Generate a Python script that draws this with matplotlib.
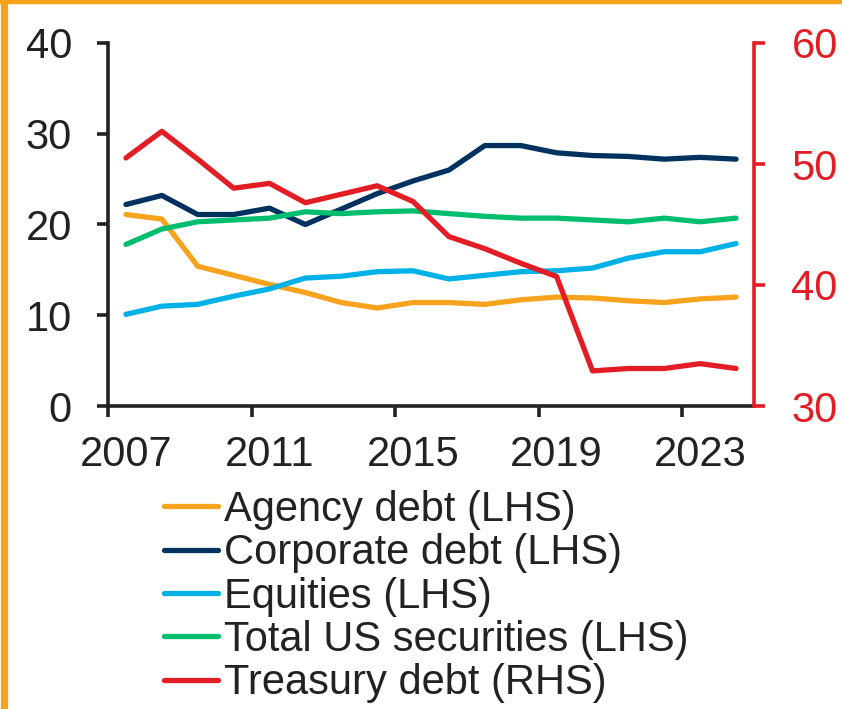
import matplotlib
matplotlib.use("Agg")
import matplotlib.pyplot as plt
from matplotlib.lines import Line2D
import numpy as np

plt.rcParams['font.family'] = ['Liberation Sans', 'DejaVu Sans']

years = np.arange(2007, 2025)
agency = [21.1, 20.6, 15.4, 14.4, 13.4, 12.5, 11.4, 10.8, 11.4,
          11.4, 11.2, 11.7, 12.0, 11.9, 11.6, 11.4, 11.8, 12.0]
corporate = [22.2, 23.2, 21.1, 21.1, 21.8, 20.0, 21.7, 23.4, 24.8,
             26.0, 28.7, 28.7, 27.9, 27.6, 27.5, 27.2, 27.4, 27.2]
equities = [10.1, 11.0, 11.2, 12.1, 12.9, 14.1, 14.3, 14.8, 14.9,
            14.0, 14.4, 14.8, 14.9, 15.2, 16.3, 17.0, 17.0, 17.9]
total_us = [17.8, 19.5, 20.3, 20.5, 20.7, 21.4, 21.2, 21.4, 21.5,
            21.2, 20.9, 20.7, 20.7, 20.5, 20.3, 20.7, 20.3, 20.7]
treasury = [50.5, 52.7, 50.4, 48.0, 48.4, 46.8, 47.5, 48.2, 46.9,
            44.0, 43.0, 41.8, 40.7, 32.9, 33.1, 33.1, 33.5, 33.1]
label_years = [2007, 2011, 2015, 2019, 2023]

labels = ["Agency debt (LHS)", "Corporate debt (LHS)", "Equities (LHS)",
          "Total US securities (LHS)", "Treasury debt (RHS)"]
colors = ["#F8A31E", "#00325F", "#00B1E8", "#00BE6E", "#E31D25"]
dark = "#222222"
red = "#E31D25"
lw = 3.8
fs = 30

fig = plt.figure(figsize=(8.42, 7.09), dpi=100)
ax = fig.add_axes([108 / 842, 1 - 406 / 709, (754 - 108) / 842, (406 - 43) / 709])
ax2 = ax.twinx()

# category axis: each year's point sits in the middle of its slot
x = years + 0.5
for series, c in zip([agency, corporate, equities, total_us], colors[:4]):
    ax.plot(x, series, color=c, lw=lw, solid_capstyle="round", solid_joinstyle="round")
ax2.plot(x, treasury, color=red, lw=lw, solid_capstyle="round", solid_joinstyle="round")

ax.set_xlim(years[0], years[-1] + 1)
ax.set_ylim(0, 40)
ax2.set_ylim(30, 60)
ax.set_xticks(label_years)
ax.set_xticklabels([])
ax.set_xticks([y + 0.5 for y in label_years], [str(y) for y in label_years], minor=True)
ax.set_yticks([0, 10, 20, 30, 40])
ax2.set_yticks([30, 40, 50, 60])

for s in ["top", "right"]:
    ax.spines[s].set_visible(False)
for s in ["top", "left", "bottom"]:
    ax2.spines[s].set_visible(False)
ax.spines["left"].set_color(dark)
ax.spines["bottom"].set_color(dark)
ax.spines["left"].set_linewidth(2.6)
ax.spines["bottom"].set_linewidth(2.6)
ax2.spines["right"].set_color(red)
ax2.spines["right"].set_linewidth(2.6)

ax.tick_params(axis="y", direction="out", length=8, width=2.6, color=dark,
               labelcolor=dark, labelsize=fs, pad=18)
ax.tick_params(axis="x", which="major", direction="out", length=8, width=2.6, color=dark)
ax.tick_params(axis="x", which="minor", length=0, labelcolor=dark, labelsize=fs, pad=21)
ax2.tick_params(axis="y", direction="out", length=8, width=2.6, color=red,
                labelcolor=red, labelsize=fs, pad=19)

handles = [Line2D([], [], color=c, lw=lw, solid_capstyle="round") for c in colors]
fig.legend(handles, labels, loc="upper left", bbox_to_anchor=(164 / 842, 1 - 490 / 709),
           frameon=False, fontsize=fs, handlelength=1.3, handletextpad=0.15,
           labelspacing=0.08, borderpad=0, borderaxespad=0, labelcolor=dark)

# orange frame at the left and top edges
orange = "#F7A21B"
fig.add_artist(Line2D([3.5 / 842, 3.5 / 842], [0, 1], color=orange, lw=5.2,
                      transform=fig.transFigure))
fig.add_artist(Line2D([0, 1], [1 - 2 / 709, 1 - 2 / 709], color=orange, lw=3.2,
                      transform=fig.transFigure))

fig.savefig("out.png", dpi=100)
